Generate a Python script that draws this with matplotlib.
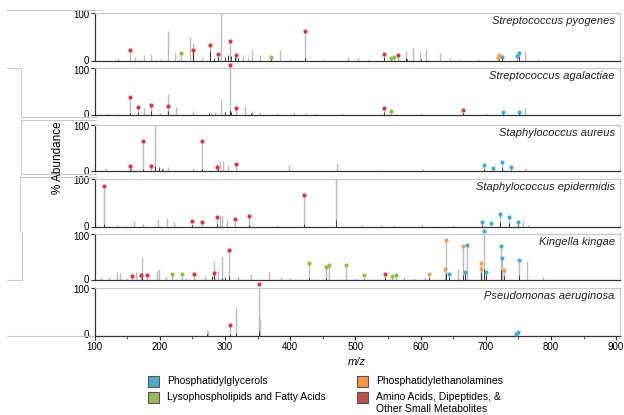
import matplotlib
matplotlib.use("Agg")
import matplotlib.pyplot as plt
from matplotlib.lines import Line2D
from matplotlib.patches import Rectangle
from matplotlib.transforms import ScaledTranslation

plt.rcParams['font.family'] = ['Liberation Sans', 'DejaVu Sans']

W, H = 624, 415

species = ["Streptococcus pyogenes", "Streptococcus agalactiae", "Staphylococcus aureus",
           "Staphylococcus epidermidis", "Kingella kingae", "Pseudomonas aeruginosa"]

# class colours: PG, PE, LPL/FA, amino acids etc.
class_colors = {"PG": "#3aaed8", "PE": "#f7a04a", "LPL": "#8cc43f", "AA": "#d8383c"}
legend_colors = {"PG": "#4bacc6", "PE": "#f79646", "LPL": "#9bbb59", "AA": "#c0504d"}
legend_labels = {"PG": "Phosphatidylglycerols", "PE": "Phosphatidylethanolamines",
                 "LPL": "Lysophospholipids and Fatty Acids",
                 "AA": "Amino Acids, Dipeptides, &\nOther Small Metabolites"}

# --- peak lists (m/z, % abundance) ---
pyogenes_gray = [(293.6, 100), (213.1, 62), (246.9, 51), (251, 37), (186.7, 14), (223.5, 16),
                 (176.3, 13), (162.3, 9), (341.3, 22), (383.9, 23), (328.3, 13), (354.3, 13),
                 (577.4, 21), (588.9, 27), (599.2, 18), (608.6, 24), (630.4, 17), (760.6, 20),
                 (136.3, 4), (489.2, 9), (504.8, 7), (644.9, 6), (200, 5), (265, 8), (335, 9)]
pyogenes_dark = [(276.4, 20), (250.5, 18), (290, 8), (300, 9), (305, 12), (310, 10), (315, 8),
                 (320, 6), (283, 6), (370, 6), (543.7, 8), (555, 5), (578, 6), (720, 6),
                 (725, 6), (751, 8), (136, 3), (423, 6), (580, 4), (600, 4), (400, 2),
                 (450, 2), (520, 2), (660, 2), (690, 2), (780, 2), (170, 2), (230, 3)]
pyogenes_marked = [(154.5, 22, "AA"), (250.5, 23, "AA"), (276.4, 34, "AA"), (289.4, 14, "AA"),
                   (307.6, 42, "AA"), (316.9, 13, "AA"), (423.3, 63, "AA"), (543.7, 14, "AA"),
                   (565.0, 12, "AA"), (232.8, 16, "LPL"), (370.4, 8, "LPL"), (555.1, 7, "LPL"),
                   (559.3, 9, "LPL"), (718.6, 6, "PE"), (720.1, 13, "PE"), (724.3, 8, "PG"),
                   (748.7, 11, "PG"), (751.3, 17, "PG")]

agalactiae_gray = [(213.1, 45), (293.6, 34), (225.6, 18), (176.3, 14), (330.9, 20), (341.3, 9),
                   (250.5, 9), (760.1, 14), (406.2, 6), (424.3, 4), (354.3, 6), (279, 7),
                   (136, 3), (200, 4), (285, 6)]
agalactiae_dark = [(307.6, 10), (300, 6), (310, 6), (213.1, 8), (154.5, 5), (166.4, 6),
                   (186.7, 8), (276, 5), (543.7, 6), (665.6, 5), (725.8, 3), (751.3, 4), (340, 4),
                   (380, 2), (440, 2), (480, 2), (600, 2), (700, 2), (120, 2)]
agalactiae_marked = [(154.5, 39, "AA"), (166.4, 16, "AA"), (186.7, 21, "AA"), (213.1, 20, "AA"),
                     (307.6, 107, "AA"), (316.9, 15, "AA"), (543.7, 15, "AA"), (665.6, 11, "AA"),
                     (555.1, 9, "LPL"), (725.8, 6, "PG"), (751.3, 7, "PG")]

aureus_gray = [(193.4, 100), (156, 16), (198.6, 11), (213.1, 9), (118.2, 8), (288.4, 19),
               (293, 23), (297.2, 22), (305, 13), (398.4, 13), (471.6, 19), (250.5, 7),
               (760.1, 8), (603.4, 6), (540, 4), (132, 4), (205, 8)]
aureus_dark = [(193.4, 12), (198.6, 8), (174.2, 6), (154.5, 6), (265, 6), (290, 5), (724.8, 8),
               (696.8, 5), (739.3, 4), (204, 6), (350, 2), (420, 2), (500, 2), (650, 2)]
aureus_marked = [(154.5, 12, "AA"), (174.2, 64, "AA"), (187.2, 11, "AA"), (265, 65, "AA"),
                 (288.4, 9, "AA"), (316.9, 16, "AA"), (696.8, 13, "PG"), (711.3, 7, "PG"),
                 (724.8, 21, "PG"), (739.3, 9, "PG")]

epidermidis_gray = [(470, 100), (160.6, 12), (197, 17), (211.7, 19), (222, 10), (292.5, 23),
                    (295.5, 22), (302.7, 15), (175, 7), (603, 6), (539, 5), (511, 4),
                    (756.8, 15), (765, 5), (134, 4), (148, 3)]
epidermidis_dark = [(115, 6), (470, 15), (421, 6), (288, 6), (250, 4), (336.5, 5), (722.4, 10),
                    (736, 8), (694, 4), (749.5, 4), (380, 2), (560, 2), (650, 2)]
epidermidis_marked = [(115, 84, "AA"), (250, 12, "AA"), (264.4, 11, "AA"), (288, 21, "AA"),
                      (316, 16, "AA"), (336.5, 23, "AA"), (421, 67, "AA"), (694, 11, "PG"),
                      (708.6, 8, "PG"), (722.4, 27, "PG"), (736, 21, "PG"), (749.5, 11, "PG")]

kingae_gray = [(172.7, 51), (295.1, 53), (282.7, 41), (198.6, 24), (196, 20), (134.3, 17),
               (139, 15), (163.8, 17), (289.4, 20), (340.3, 14), (367.3, 17), (763.2, 42),
               (656.8, 24), (787.6, 7), (607, 7), (574.8, 6), (110.4, 6), (123, 7), (210, 8),
               (270, 9), (320, 8), (386, 6)]
kingae_dark = [(697.3, 25), (692.1, 18), (668.8, 15), (722.7, 22), (639.7, 12), (643.3, 7),
               (700.4, 10), (727.4, 8), (306, 8), (282.7, 10), (280, 8), (172.7, 6), (429, 4),
               (455, 4), (545.8, 6), (612.7, 4), (751.3, 10), (300, 6), (295, 5), (665.6, 10),
               (400, 2), (500, 2), (590, 2), (150, 3), (240, 3)]
kingae_marked = [(157.1, 9, "AA"), (171.1, 11, "AA"), (180.4, 10, "AA"), (252, 14, "AA"),
                 (282.7, 16, "AA"), (306, 65, "AA"), (545.8, 14, "AA"),
                 (219.4, 12, "LPL"), (234.9, 14, "LPL"), (429, 36, "LPL"), (455, 28, "LPL"),
                 (460, 32, "LPL"), (485, 33, "LPL"), (513, 10, "LPL"), (557, 8, "LPL"),
                 (561.9, 11, "LPL"),
                 (612.7, 14, "PE"), (637.6, 25, "PE"), (639.7, 86, "PE"), (665.6, 73, "PE"),
                 (692.1, 36, "PE"), (693.2, 25, "PE"), (727.4, 21, "PE"),
                 (643.3, 12, "PG"), (668.8, 17, "PG"), (671.4, 77, "PG"), (697.3, 107, "PG"),
                 (700.4, 17, "PG"), (722.7, 75, "PG"), (725.3, 47, "PG"), (751.3, 44, "PG")]

aeruginosa_gray = [(354.5, 34), (317, 57), (272, 12), (274, 10), (210, 2)]
aeruginosa_dark = [(352.8, 10), (317, 5), (307.8, 4), (272, 4), (747, 3)]
aeruginosa_marked = [(352.8, 107, "AA"), (307.8, 22, "AA"), (746.5, 4, "PG"), (750, 7, "PG")]

panels = [(pyogenes_gray, pyogenes_dark, pyogenes_marked),
          (agalactiae_gray, agalactiae_dark, agalactiae_marked),
          (aureus_gray, aureus_dark, aureus_marked),
          (epidermidis_gray, epidermidis_dark, epidermidis_marked),
          (kingae_gray, kingae_dark, kingae_marked),
          (aeruginosa_gray, aeruginosa_dark, aeruginosa_marked)]

# pixel layout of each panel (top = 100 %, bottom = 0 %)
tops = [13, 68, 124.5, 178.5, 234, 287.5]
bottoms = [61, 115, 171.5, 227, 280, 335.5]
left_px, right_px = 94.5, 620

fig = plt.figure(figsize=(W / 100, H / 100), dpi=100)
fig.patch.set_facecolor("white")

for i, (gray, dark, marked) in enumerate(panels):
    ax = fig.add_axes([left_px / W, 1 - bottoms[i] / H, (right_px - left_px) / W,
                       (bottoms[i] - tops[i]) / H])
    ax.set_facecolor("none")
    ax.set_xlim(100, 100 + (right_px - left_px) / 0.652)
    ax.set_ylim(0, 100)

    gx = [p[0] for p in gray] + [m[0] for m in marked]
    gy = [p[1] for p in gray] + [min(m[1], 100) for m in marked]
    ax.vlines(gx, 0, gy, color="#bcbcbc", lw=1.0, clip_on=False)
    ax.vlines([p[0] for p in dark], 0, [p[1] for p in dark], color="#3a3a3a", lw=0.7)
    for cls, c in class_colors.items():
        xs = [m[0] for m in marked if m[2] == cls]
        ys = [m[1] for m in marked if m[2] == cls]
        ax.plot(xs, ys, "o", ms=3.0, mfc=c, mec=c, mew=0, clip_on=False, zorder=5)

    for s in ("top", "right"):
        ax.spines[s].set_color("#c8c8c8")
        ax.spines[s].set_linewidth(0.9)
    for s in ("left", "bottom"):
        ax.spines[s].set_color("#333333")
        ax.spines[s].set_linewidth(0.9)

    ax.set_yticks([0, 100])
    ax.set_yticklabels(["0", "100"])
    ax.tick_params(axis="y", direction="out", length=3, width=0.8, pad=1,
                   labelsize=7, color="#333333")
    # the 0 label sits a touch high, the 100 label a touch low, as in the original
    ylabs = ax.get_yticklabels()
    ylabs[0].set_transform(ylabs[0].get_transform() + ScaledTranslation(0, 1 / 100, fig.dpi_scale_trans))
    ylabs[1].set_transform(ylabs[1].get_transform() + ScaledTranslation(0, -1.5 / 100, fig.dpi_scale_trans))
    ax.text(0.99, 0.93, species[i], transform=ax.transAxes, ha="right", va="top",
            style="italic", fontsize=8, color="#222222")
    if i < 5:
        ax.set_xticks([])
    else:
        ax.set_xticks(range(100, 901, 100))
        ax.set_xticks(range(150, 900, 100), minor=True)
        ax.tick_params(axis="x", which="major", direction="out", length=3, width=0.8,
                       labelsize=7, pad=2, color="#333333")
        ax.tick_params(axis="x", which="minor", direction="out", length=2, width=0.6,
                       color="#333333")
        ax.set_xlabel("m/z", style="italic", fontsize=8, labelpad=3)

fig.text(58 / W, 1 - 158 / H, "% Abundance", rotation=90, ha="center", va="center",
         fontsize=8.5)

# stray frame lines to the left of the panels
def px_line(xs, ys):
    fig.add_artist(Line2D([x / W for x in xs], [1 - y / H for y in ys],
                          color="#c8c8c8", lw=0.8))

px_line([7, 102], [10, 10])
px_line([7, 21, 21, 96], [68, 68, 117, 117])
px_line([96, 21, 21, 96], [120, 120, 174, 174])
px_line([96, 20, 20], [177, 177, 232])
px_line([22, 22, 7], [232, 280, 280])
px_line([7, 94], [335.5, 335.5])

# legend
legend_pos = [("PG", 148, 381), ("PE", 357, 381), ("LPL", 148, 397), ("AA", 357, 397)]
for cls, x, y in legend_pos:
    fig.add_artist(Rectangle((x / W, 1 - (y + 5.5) / H), 11 / W, 11 / H,
                             facecolor=legend_colors[cls], edgecolor="#555555", lw=0.8))
    fig.text((x + 19) / W, 1 - (y - 5) / H, legend_labels[cls], ha="left", va="top",
             fontsize=7.5, linespacing=1.25)

fig.savefig("out.png", dpi=100)
